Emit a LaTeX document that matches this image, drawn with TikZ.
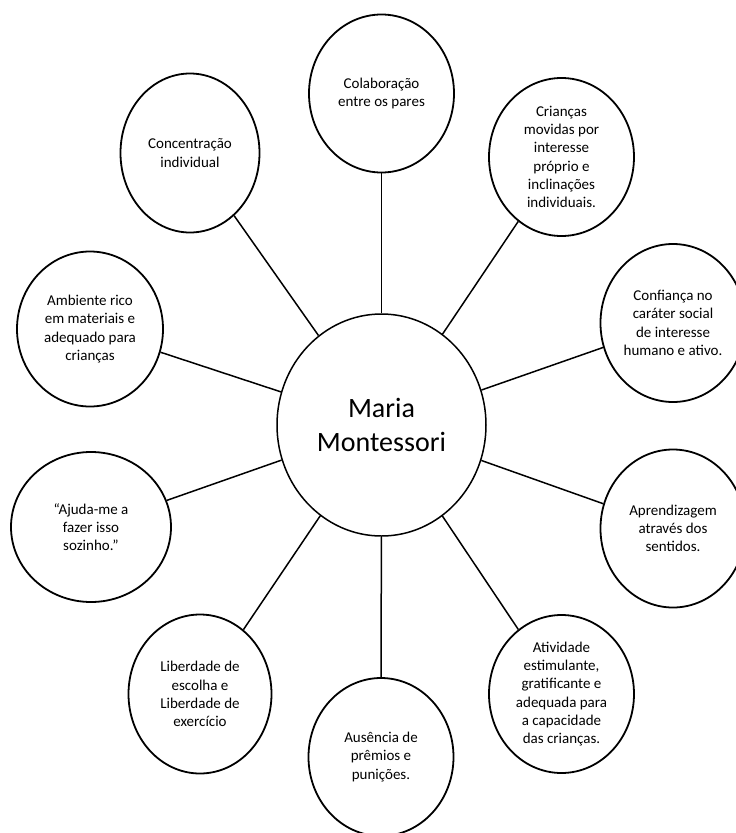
\documentclass[tikz,border=0pt]{standalone}
\usepackage{fontspec}
\setmainfont{Carlito}
\usetikzlibrary{shapes.geometric}
\begin{document}
\begin{tikzpicture}[x=1pt,y=-1pt,
  idea/.style={ellipse,draw,line width=1.8pt,inner sep=0pt,minimum width=145pt,minimum height=158pt,align=center,font=\fontsize{15}{18.3}\selectfont},
  hub/.style={ellipse,draw,line width=1.5pt,inner sep=0pt,minimum width=209pt,minimum height=222pt,align=center,font=\fontsize{28}{34}\selectfont},
  spoke/.style={line width=1.5pt}]
\useasboundingbox (0,0) rectangle (736,833);
\clip (0,0) rectangle (736,833);
\node[hub] (maria) at (381.5,425) {Maria\\Montessori};
\node[idea] (pares) at (381.5,93.5) {Colaboração\\entre os pares};
\node[idea] (criancas) at (561.5,157) {Crianças\\movidas por\\interesse\\próprio e\\inclinações\\individuais.};
\node[idea] (confianca) at (673,323) {Confiança no\\caráter social\\de interesse\\humano e ativo.};
\node[idea] (sentidos) at (673,528.5) {Aprendizagem\\através dos\\sentidos.};
\node[idea] (atividade) at (561.5,694) {Atividade\\estimulante,\\gratificante e\\adequada para\\a capacidade\\das crianças.};
\node[idea] (premios) at (381,757) {Ausência de\\prêmios e\\punições.};
\node[idea,minimum width=143pt,minimum height=159pt] (liberdade) at (200,694) {Liberdade de\\escolha e\\Liberdade de\\exercício};
\node[idea,minimum width=160pt,minimum height=150pt] (ajuda) at (91,527) {“Ajuda-me a\\fazer isso\\sozinho.”};
\node[idea,minimum width=146pt,minimum height=155pt] (ambiente) at (90,329) {Ambiente rico\\em materiais e\\adequado para\\crianças};
\node[idea,minimum width=139pt,minimum height=159pt] (concentracao) at (190,153) {Concentração\\individual};
\foreach \n in {pares,criancas,confianca,sentidos,atividade,premios,liberdade,ajuda,ambiente,concentracao}
{
\draw[spoke] (maria) -- (\n);
}
\end{tikzpicture}
\end{document}
